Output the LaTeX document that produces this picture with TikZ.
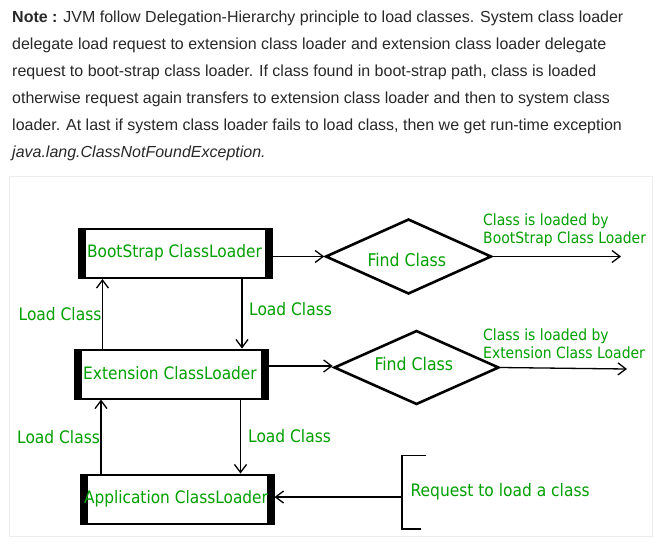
\documentclass[tikz,border=0pt]{standalone}
\usepackage{fontspec}
\setmainfont{Liberation Sans}
\newfontfamily\diafont{DejaVu Sans Condensed}
\usetikzlibrary{arrows.meta,shapes.geometric}
\definecolor{gtext}{RGB}{0,160,0}
\definecolor{ptext}{RGB}{40,40,40}
\definecolor{framec}{RGB}{236,236,236}
\newcommand{\shtxt}[3]{\hspace*{#1}\raisebox{-#2}[0pt][0pt]{#3}}
\tikzset{
  para/.style={anchor=base west,inner sep=0,text=ptext,font=\fontsize{16}{19}\selectfont},
  lbl/.style={anchor=base west,inner sep=0,text=gtext,font=\diafont\fontsize{17.2}{20}\selectfont},
  small lbl/.style={lbl,font=\diafont\fontsize{15.5}{18}\selectfont},
  loader/.style={draw,line width=2pt,inner sep=0,text=gtext,font=\diafont\fontsize{17.1}{20}\selectfont,
    minimum width=193pt,minimum height=49pt,
    path picture={
      \fill (path picture bounding box.north west) rectangle ([xshift=7pt]path picture bounding box.south west);
      \fill (path picture bounding box.north east) rectangle ([xshift=-7pt]path picture bounding box.south east);}},
  decide/.style={draw,diamond,line width=2.6pt,inner sep=0,aspect=2.2,text=gtext,font=\diafont\fontsize{17.5}{20}\selectfont},
  arr/.style={line width=1.3pt,-{Straight Barb[length=8pt,width=12pt,line width=1.3pt]}},
  plain/.style={line width=1.5pt}
}
\begin{document}
\begin{tikzpicture}[x=1pt,y=-1pt]
\useasboundingbox[fill=white] (0,0) rectangle (663,552);
% paragraph
\node[para] (p1) at (12,22) {\textbf{Note :} JVM follow Delegation-Hierarchy principle to load classes. System class loader};
\node[para] (p2) at (12,49) {delegate load request to extension class loader and extension class loader delegate};
\node[para] (p3) at (12,76) {request to boot-strap class loader. If class found in boot-strap path, class is loaded};
\node[para] (p4) at (12,103) {otherwise request again transfers to extension class loader and then to system class};
\node[para] (p5) at (12,130) {loader. At last if system class loader fails to load class, then we get run-time exception};
\node[para] (p6) at (12,157) {\textit{java.lang.ClassNotFoundException.}};
% frame
\draw[framec,line width=1pt] (9.5,176.5) rectangle (652.5,536.5);
% loaders
\node[loader] (boot) at (175.5,253.5) {\shtxt{-2pt}{3.6pt}{BootStrap ClassLoader}};
\node[loader] (ext) at (171,374) {\shtxt{-2pt}{5.6pt}{Extension ClassLoader}};
\node[loader] (app) at (177,499) {\shtxt{-2pt}{4pt}{Application ClassLoader}};
% decisions
\node[decide,minimum width=166pt,minimum height=75pt] (d1) at (408.5,256.5) {\shtxt{-3.4pt}{9.7pt}{Find Class}};
\node[decide,minimum width=165pt,minimum height=74pt] (d2) at (416.5,367.5) {\shtxt{-5.4pt}{3.1pt}{Find Class}};
% outputs
\coordinate (o1) at (621,256.5);
\coordinate (o2) at (627,369);
\draw[arr] (boot.east |- d1.west) -- (d1.west);
\draw[arr] (d1.east) -- (o1);
\draw[arr] (ext.east |- 0,366) -- (d2.west |- 0,366);
\draw[arr] (d2.east) -- (o2);
\node[small lbl] (c1a) at (483,225) {Class is loaded by};
\node[small lbl] (c1b) at (483,243) {BootStrap Class Loader};
\node[small lbl] (c2a) at (483,340) {Class is loaded by};
\node[small lbl] (c2b) at (483,358) {Extension Class Loader};
% vertical arrows
\coordinate (xu1) at (102.5,0);
\coordinate (xd1) at (242,0);
\coordinate (xu2) at (101,0);
\coordinate (xd2) at (240.5,0);
\draw[arr] (ext.north -| xu1) -- (boot.south -| xu1);
\draw[arr] (boot.south -| xd1) -- (ext.north -| xd1);
\draw[arr] (app.north -| xu2) -- (ext.south -| xu2);
\draw[arr] (ext.south -| xd2) -- (app.north -| xd2);
\node[lbl] (l1) at (18.5,320) {Load Class};
\node[lbl] (l2) at (249,315) {Load Class};
\node[lbl] (l3) at (17,443) {Load Class};
\node[lbl] (l4) at (248,442) {Load Class};
% request bracket
\coordinate (bt) at (426,455.5);
\coordinate (bb) at (421,529);
\coordinate (bm) at (402,497);
\draw[plain] (bt) -- (402,455.5) -- (402,529) -- (bb);
\draw[arr] (bm) -- (app.east |- bm);
\node[lbl] (req) at (410.5,496) {Request to load a class};
\end{tikzpicture}
\end{document}
